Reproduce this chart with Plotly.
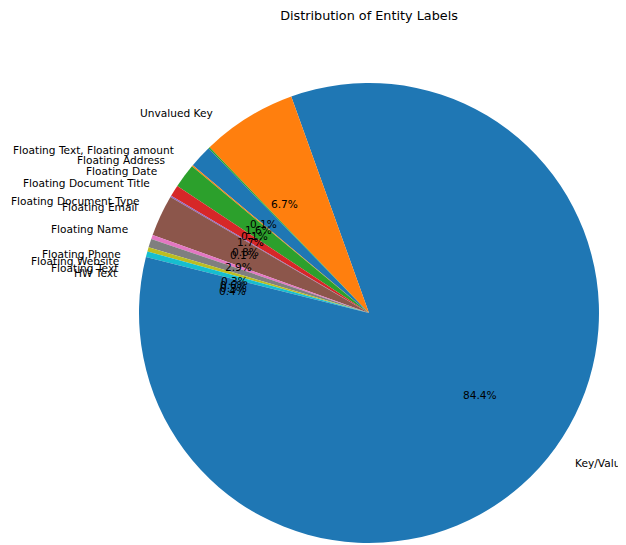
import math
import plotly.graph_objects as go

# ---- data (in drawing order, counterclockwise from start angle) ----
labels = [
    "Floating Address", "Floating Date", "Floating Document Title",
    "Floating Document Type", "Floating Email", "Floating Name",
    "Floating Phone", "Floating Website", "Floating Text", "HW Text",
    "Key/Value", "Unvalued Key", "Floating Text, Floating amount",
]
values = [1.6, 0.1, 1.7, 0.8, 0.1, 2.9, 0.3, 0.6, 0.3, 0.4, 84.4, 6.7, 0.1]
colors = ["#1f77b4", "#ff7f0e", "#2ca02c", "#d62728", "#9467bd", "#8c564b",
          "#e377c2", "#7f7f7f", "#bcbd22", "#17becf", "#1f77b4", "#ff7f0e", "#2ca02c"]
title = "Distribution of Entity Labels"
start_angle = 140  # degrees, counterclockwise from 3 o'clock

# ---- layout geometry (figure pixels; page adds an 8px body margin) ----
W, H = 626, 545
OFF = 8
cx, cy, R = 369 - OFF, 313 - OFF, 230
pie_xdom = [(cx - R) / W, (cx + R) / W]
pie_ydom = [(H - cy - R) / H, (H - cy + R) / H]
xr = [-1.2, 1.15]
yr = [-1.02, 1.1]
ax_xdom = [(cx + xr[0] * R) / W, (cx + xr[1] * R) / W]
ax_ydom = [(H - cy + yr[0] * R) / H, (H - cy + yr[1] * R) / H]

total = sum(values)
font_family = "DejaVu Sans"
fsize = 10.6
annotations = []
cum = 0.0
for lab, v in zip(labels, values):
    theta = math.radians(start_angle + 360.0 * (cum + v / 2) / total)
    cum += v
    lx, ly = 1.1 * math.cos(theta), 1.1 * math.sin(theta)
    annotations.append(dict(
        x=lx, y=ly, xref="x", yref="y", text=lab, showarrow=False,
        xanchor="left" if lx > 0 else "right", yanchor="middle",
        font=dict(family=font_family, size=fsize, color="black"),
    ))
    annotations.append(dict(
        x=0.6 * math.cos(theta), y=0.6 * math.sin(theta), xref="x", yref="y",
        text=f"{100 * v / total:.1f}%", showarrow=False,
        xanchor="center", yanchor="middle",
        font=dict(family=font_family, size=fsize, color="black"),
    ))

fig = go.Figure()
fig.add_trace(go.Pie(
    labels=labels, values=values, sort=False, direction="counterclockwise",
    rotation=90 - start_angle,
    marker=dict(colors=colors, line=dict(width=0)),
    textinfo="none", showlegend=False, hoverinfo="label+percent",
    domain=dict(x=pie_xdom, y=pie_ydom),
))
fig.add_trace(go.Scatter(x=[], y=[], showlegend=False, hoverinfo="skip"))
fig.update_layout(
    width=W, height=H,
    margin=dict(l=0, r=0, t=0, b=0),
    paper_bgcolor="white", plot_bgcolor="rgba(0,0,0,0)",
    title=dict(text=title, x=cx / W, xanchor="center", y=1 - (15.5 - OFF) / H,
               yanchor="middle", yref="container",
               font=dict(family=font_family, size=12.8, color="black")),
    xaxis=dict(domain=ax_xdom, range=xr, visible=False, fixedrange=True),
    yaxis=dict(domain=ax_ydom, range=yr, visible=False, fixedrange=True),
    annotations=annotations,
)
fig.write_html("out.html")
